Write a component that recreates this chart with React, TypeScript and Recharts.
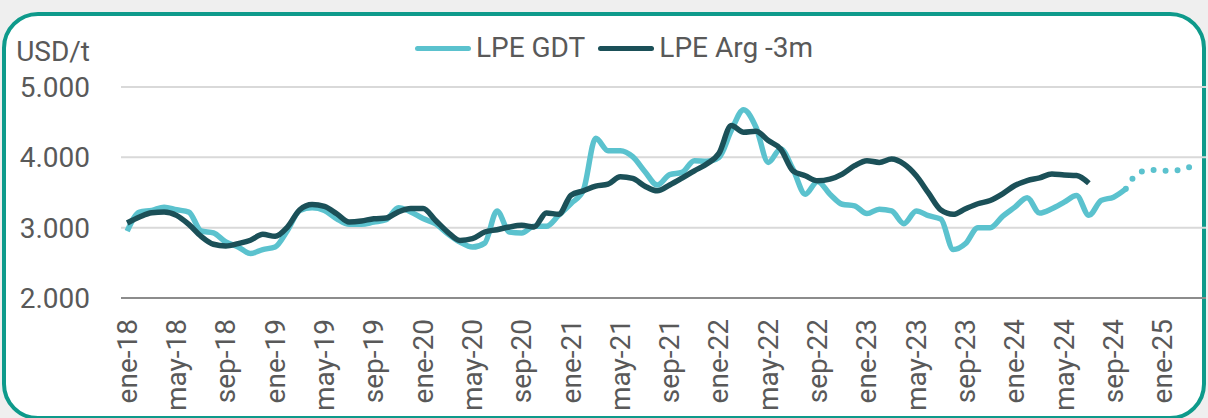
import { LineChart, Line, XAxis, YAxis, CartesianGrid } from "recharts";

// month labels, Jan-18 .. Apr-25
const MONTHS = ["ene", "feb", "mar", "abr", "may", "jun", "jul", "ago", "sep", "oct", "nov", "dic"];
const START_YEAR = 18;
const N_MONTHS = 88;
const categories = Array.from(
  { length: N_MONTHS },
  (_, i) => `${MONTHS[i % 12]}-${START_YEAR + Math.floor(i / 12)}`
);

// LPE GDT, USD/t, Jan-18 .. Oct-24
const gdt = [
  2950, 3222, 3245, 3292, 3255, 3222, 2953, 2925, 2797, 2726, 2632, 2689,
  2726, 2962, 3245, 3283, 3245, 3127, 3047, 3047, 3080, 3113, 3283, 3224,
  3129, 3057, 2914, 2795, 2724, 2781, 3238, 2938, 2924, 3019, 3019, 3176,
  3343, 3533, 4271, 4095, 4095, 4009, 3795, 3605, 3755, 3786, 3952, 3943,
  4000, 4381, 4676, 4428, 3928, 4119, 3833, 3476, 3657, 3476, 3333, 3309,
  3200, 3262, 3238, 3057, 3238, 3170, 3120, 2689, 2774, 3000, 3000, 3160,
  3292, 3425, 3208, 3269, 3363, 3458, 3175, 3387, 3434, 3552,
];

// LPE GDT forecast (dotted), Oct-24 .. Apr-25
const FORECAST_START = 81;
const gdtForecast = [3552, 3774, 3821, 3811, 3811, 3858, 3849];

// LPE Arg -3m, USD/t, Jan-18 .. Jul-24
const arg = [
  3066, 3151, 3212, 3222, 3175, 3047, 2877, 2764, 2740, 2774, 2821, 2906,
  2877, 3009, 3255, 3330, 3302, 3198, 3080, 3094, 3127, 3137, 3224, 3271,
  3271, 3105, 2938, 2819, 2843, 2938, 2971, 3010, 3033, 3010, 3209, 3190,
  3462, 3524, 3590, 3619, 3724, 3700, 3590, 3524, 3607, 3705, 3809, 3905,
  4057, 4452, 4357, 4371, 4238, 4119, 3809, 3738, 3667, 3690, 3762, 3881,
  3952, 3928, 3976, 3905, 3738, 3490, 3250, 3189, 3269, 3340, 3387, 3481,
  3599, 3670, 3708, 3764, 3750, 3741, 3632,
];

const yTicks = [2000, 3000, 4000, 5000];
const xTicks = Array.from({ length: 22 }, (_, k) => k * 4);

const GDT_COLOR = "#5BC2CE";
const ARG_COLOR = "#1B5058";
const TEXT = "#595959";

const data = categories.map((label, i) => ({
  i,
  label,
  gdt: i < gdt.length ? gdt[i] : null,
  gdtF: i >= FORECAST_START ? gdtForecast[i - FORECAST_START] ?? null : null,
  arg: i < arg.length ? arg[i] : null,
}));

const fmt = (v: number) => String(v).replace(/\B(?=(\d{3})+(?!\d))/g, ".");

function XTick(props: any) {
  const { x, y, payload } = props;
  return (
    <text
      x={x}
      y={y}
      transform={`rotate(-90 ${x} ${y})`}
      textAnchor="end"
      dominantBaseline="central"
      fill={TEXT}
      fontSize={28}
    >
      {categories[payload.value]}
    </text>
  );
}

function LegendItem({ color, text }: { color: string; text: string }) {
  return (
    <div style={{ display: "flex", alignItems: "center" }}>
      <div style={{ width: 56, height: 5, borderRadius: 3, background: color, marginRight: 5 }} />
      <span>{text}</span>
    </div>
  );
}

export default function App() {
  return (
    <div
      style={{
        position: "absolute",
        left: 0,
        top: 0,
        width: 1208,
        height: 418,
        overflow: "hidden",
        background: "#efefef",
        fontFamily: "Roboto, sans-serif",
      }}
    >
      <div
        style={{
          position: "absolute",
          left: 2,
          top: 12,
          width: 1204,
          height: 408,
          boxSizing: "border-box",
          border: "4px solid #0E9A8B",
          borderRadius: 36,
          background: "#fff",
        }}
      />
      <div
        style={{
          position: "absolute",
          left: 0,
          top: 38,
          width: 90,
          textAlign: "right",
          fontSize: 28,
          lineHeight: "28px",
          color: TEXT,
        }}
      >
        USD/t
      </div>
      <div
        style={{
          position: "absolute",
          left: 0,
          top: 34,
          width: 1208,
          paddingLeft: 20,
          boxSizing: "border-box",
          display: "flex",
          justifyContent: "center",
          gap: 13,
          fontSize: 28,
          lineHeight: "28px",
          color: TEXT,
        }}
      >
        <LegendItem color={GDT_COLOR} text="LPE GDT" />
        <LegendItem color={ARG_COLOR} text="LPE Arg -3m" />
      </div>
      <div style={{ position: "absolute", left: 0, top: 0 }}>
        <LineChart
          width={1208}
          height={418}
          data={data}
          margin={{ top: 87, right: 2, bottom: 0, left: 0 }}
        >
          <CartesianGrid vertical={false} stroke="#D9D9D9" strokeWidth={2} />
          <XAxis
            dataKey="i"
            type="number"
            domain={[-0.5, N_MONTHS - 0.5]}
            ticks={xTicks}
            interval={0}
            height={120}
            tickSize={0}
            tickMargin={21}
            tick={<XTick />}
            axisLine={{ stroke: "#8C8C8C", strokeWidth: 2 }}
            tickLine={false}
          />
          <YAxis
            domain={[2000, 5000]}
            ticks={yTicks}
            width={121}
            tickSize={0}
            tickMargin={31}
            axisLine={false}
            tickLine={false}
            tickFormatter={fmt}
            tick={{ fill: TEXT, fontSize: 28 }}
          />
          <Line
            type="monotone"
            dataKey="gdt"
            stroke={GDT_COLOR}
            strokeWidth={5.5}
            dot={false}
            connectNulls={false}
            isAnimationActive={false}
          />
          <Line
            type="monotone"
            dataKey="gdtF"
            stroke={GDT_COLOR}
            strokeWidth={6}
            strokeDasharray="0 12"
            strokeLinecap="round"
            dot={false}
            isAnimationActive={false}
          />
          <Line
            type="monotone"
            dataKey="arg"
            stroke={ARG_COLOR}
            strokeWidth={5.5}
            dot={false}
            isAnimationActive={false}
          />
        </LineChart>
      </div>
    </div>
  );
}
